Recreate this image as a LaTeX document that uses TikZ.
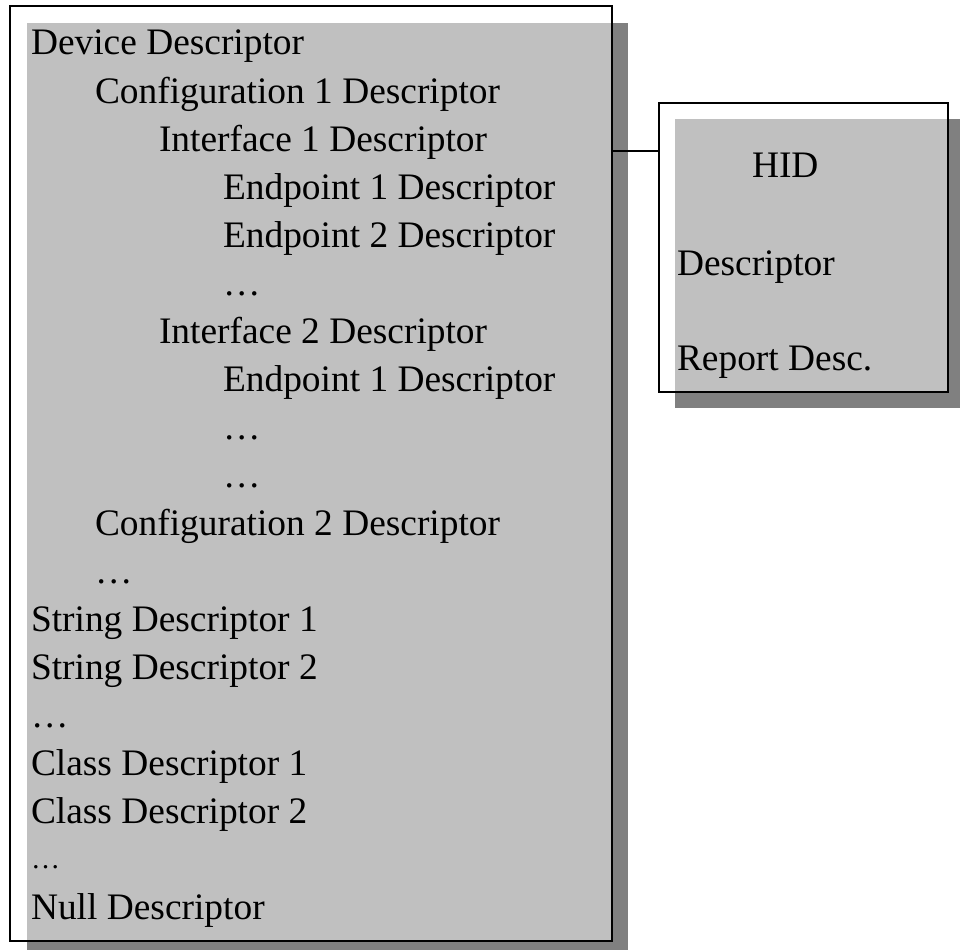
\documentclass[tikz,border=0pt]{standalone}
\usepackage{fontspec}
\setmainfont{Liberation Serif}
\definecolor{panelgray}{HTML}{C0C0C0}
\definecolor{shadowgray}{HTML}{808080}
\begin{document}
\begin{tikzpicture}[x=1pt,y=-1pt,
  txt/.style={anchor=base west,inner sep=0pt,outer sep=0pt,
    font=\fontsize{37.4}{48}\selectfont},
  smalltxt/.style={anchor=base west,inner sep=0pt,outer sep=0pt,
    font=\fontsize{29}{34}\selectfont},
  frame/.style={draw=black,line width=2pt,fill=none,rectangle,
    inner sep=0pt,outer sep=0pt},
  link/.style={draw=black,line width=1.6pt}]
\useasboundingbox (0,0) rectangle (960,950);

% descriptor tree panel: shadow, face, outline
\fill[shadowgray] (27,23) rectangle (628,950);
\fill[panelgray] (27,23) rectangle (612,941);
\node[frame,minimum width=602pt,minimum height=935pt] (mainframe) at (311,473.5) {};

% HID panel: shadow, face, outline
\fill[shadowgray] (675,119) rectangle (960,408);
\fill[panelgray] (675,119) rectangle (948,392);
\node[frame,minimum width=289pt,minimum height=289pt] (hidframe) at (803.5,247.5) {};

% connector between the two panels
\coordinate (linky) at (0,151);
\draw[link] (mainframe.east |- linky) -- (hidframe.west |- linky);

% tree entries (baselines 48pt apart)
\node[txt] (l0)  at (31,55)  {Device Descriptor};
\node[txt] (l1)  at (95,103) {Configuration 1 Descriptor};
\node[txt] (l2)  at (159,151) {Interface 1 Descriptor};
\node[txt] (l3)  at (223,199) {Endpoint 1 Descriptor};
\node[txt] (l4)  at (223,247) {Endpoint 2 Descriptor};
\node[txt] (l5)  at (223,295) {\char"2026};
\node[txt] (l6)  at (159,343) {Interface 2 Descriptor};
\node[txt] (l7)  at (223,391) {Endpoint 1 Descriptor};
\node[txt] (l8)  at (223,439) {\char"2026};
\node[txt] (l9)  at (223,487) {\char"2026};
\node[txt] (l10) at (95,535) {Configuration 2 Descriptor};
\node[txt] (l11) at (95,583) {\char"2026};
\node[txt] (l12) at (31,631) {String Descriptor 1};
\node[txt] (l13) at (31,679) {String Descriptor 2};
\node[txt] (l14) at (31,727) {\char"2026};
\node[txt] (l15) at (31,775) {Class Descriptor 1};
\node[txt] (l16) at (31,823) {Class Descriptor 2};
\node[smalltxt] (l17) at (31,868) {\char"2026};
\node[txt] (l18) at (31,919) {Null Descriptor};

% HID panel entries
\node[txt] (h1) at (752,177) {HID};
\node[txt] (h2) at (677,275) {Descriptor};
\node[txt] (h3) at (677,370) {Report Desc.};
\end{tikzpicture}
\end{document}
